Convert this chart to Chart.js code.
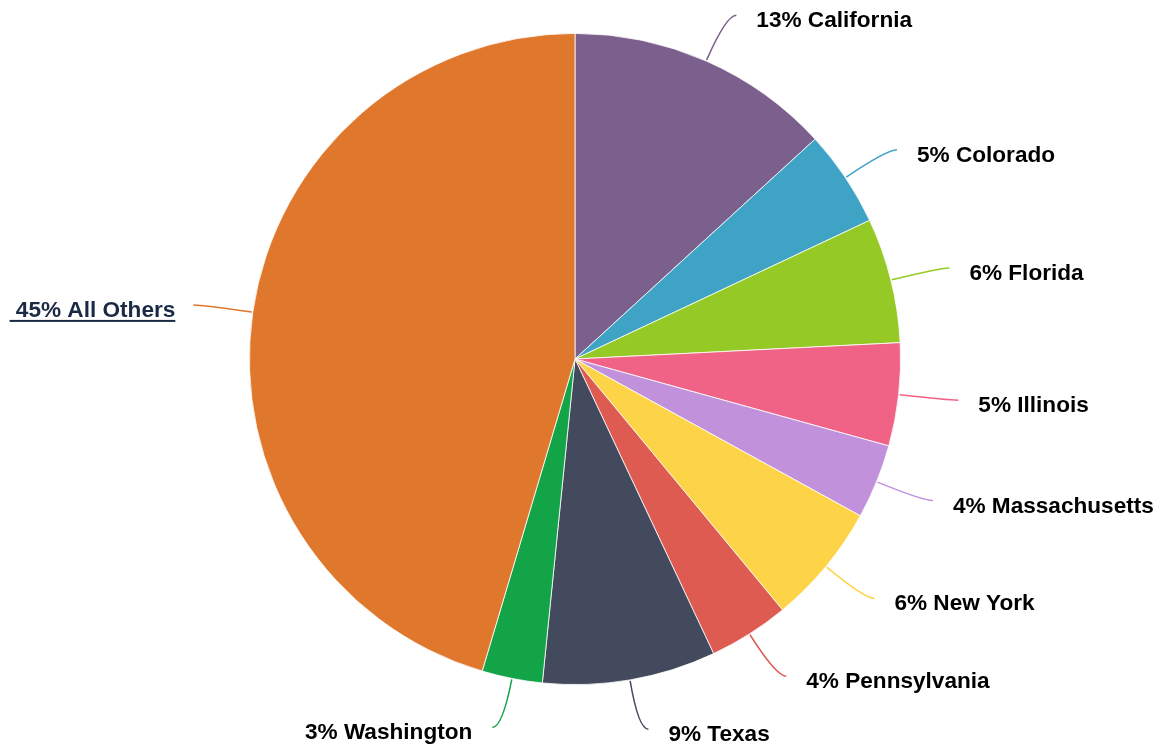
<!DOCTYPE html>
<html>
<head>
<meta charset="utf-8">
<title>Share by state</title>
<script src="https://cdn.jsdelivr.net/npm/chart.js@4.4.1/dist/chart.umd.min.js"></script>
<style>
  html,body{margin:0;padding:0;background:#fff;}
  #wrap{position:relative;width:1157px;height:751px;}
</style>
</head>
<body>
<div id="wrap"><canvas id="pie"></canvas></div>
<script>
// slices, clockwise from 12 o'clock
const states = ['California','Colorado','Florida','Illinois','Massachusetts','New York','Pennsylvania','Texas','Washington','All Others'];
const shares = [13.2, 4.8, 6.2, 5.1, 3.7, 6.0, 4.0, 8.6, 3.0, 45.4];
const colors = ['#7b5f8d','#3fa3c5','#95c926','#f06386','#c191dc','#fdd448','#de5b51','#444a5d','#12a447','#df782c'];
const linkLabel = 'All Others'; // drawn as an underlined link

const FONT = 'bold 22.6px "Liberation Sans", Arial, Helvetica, sans-serif';

// outside labels with curved leader lines
const outLabels = {
  id:'outLabels',
  afterDraw(chart){
    const ctx = chart.ctx, meta = chart.getDatasetMeta(0);
    const total = shares.reduce((a,b)=>a+b,0);
    ctx.save();
    meta.data.forEach((arc,i)=>{
      const p = arc.getProps(['x','y','startAngle','endAngle','outerRadius'],true);
      const a = (p.startAngle+p.endAngle)/2, c = Math.cos(a), s = Math.sin(a);
      const side = c >= 0 ? 1 : -1;
      const sx = p.x + c*(p.outerRadius+1), sy = p.y + s*(p.outerRadius+1);
      const kx = p.x + c*(p.outerRadius+50), ky = p.y + s*(p.outerRadius+50);
      const ex = kx + side*10, ey = ky;
      ctx.beginPath();
      ctx.moveTo(sx,sy);
      ctx.quadraticCurveTo(kx,ky,ex,ey);
      ctx.strokeStyle = colors[i];
      ctx.lineWidth = 1.5;
      ctx.stroke();

      const pct = Math.round(shares[i]/total*100);
      const isLink = states[i] === linkLabel;
      const txt = (isLink ? ' ' : '') + pct + '% ' + states[i];
      ctx.font = FONT;
      ctx.textBaseline = 'alphabetic';
      ctx.textAlign = side > 0 ? 'left' : 'right';
      const gap = isLink ? 18 : 20;
      const tx = ex + side*gap, ty = ey + 12;
      ctx.fillStyle = isLink ? '#1b2a44' : '#000';
      ctx.fillText(txt, tx, ty);
      if(isLink){
        const w = ctx.measureText(txt).width;
        const x0 = side > 0 ? tx : tx - w;
        ctx.fillRect(x0, ty+3, w, 2);
      }
    });
    ctx.restore();
  }
};

new Chart(document.getElementById('pie'),{
  type:'pie',
  data:{
    labels:states,
    datasets:[{data:shares, backgroundColor:colors, borderColor:'#fff', borderWidth:0.8}]
  },
  options:{
    responsive:true, maintainAspectRatio:false, animation:false,
    layout:{padding:{left:249,right:256,top:33,bottom:66}},
    plugins:{legend:{display:false},tooltip:{enabled:false}}
  },
  plugins:[outLabels]
});
</script>
</body>
</html>
